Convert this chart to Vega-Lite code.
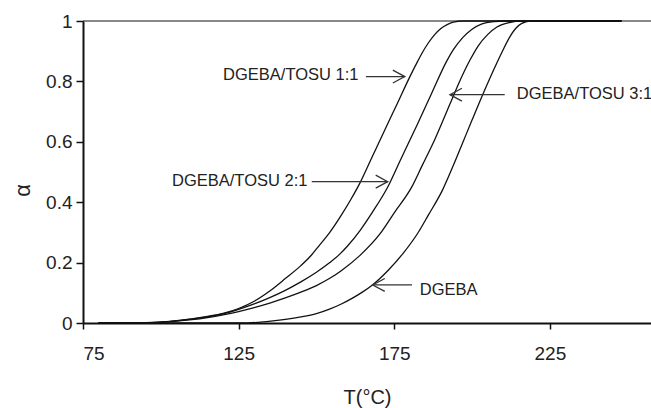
{
  "$schema": "https://vega.github.io/schema/vega-lite/v6.json",
  "width": 568,
  "height": 302,
  "autosize": {"type": "none"},
  "padding": {"left": 83, "top": 21, "right": 0, "bottom": 85},
  "background": "white",
  "config": {
    "view": {"stroke": null},
    "font": "Liberation Sans",
    "axisX": {
      "grid": false, "domainColor": "#111", "domainWidth": 2, "tickColor": "#111", "tickWidth": 1.5, "tickSize": 6,
      "labelFont": "Liberation Sans", "labelFontSize": 19, "labelColor": "#222", "labelPadding": 15, "labelDx": 5,
      "titleFont": "Liberation Sans", "titleFontSize": 20, "titleFontWeight": "normal", "titleColor": "#222",
      "titleBaseline": "alphabetic", "titleY": 80, "titleX": 284
    },
    "axisY": {
      "grid": false, "domainColor": "#111", "domainWidth": 2, "tickColor": "#111", "tickWidth": 1.5, "tickSize": 7,
      "labelFont": "Liberation Sans", "labelFontSize": 19, "labelColor": "#222", "labelPadding": 4,
      "titleFont": "Liberation Sans", "titleFontSize": 22, "titleFontWeight": "normal", "titleColor": "#222",
      "titleBaseline": "middle", "titleX": -61, "titleY": 169
    }
  },
  "datasets": {
    "curves": [
      {"s":"1:1","T":80,"a":0},{"s":"1:1","T":90,"a":0},{"s":"1:1","T":95,"a":0.001},{"s":"1:1","T":100,"a":0.003},{"s":"1:1","T":105,"a":0.008},{"s":"1:1","T":110,"a":0.014},{"s":"1:1","T":115,"a":0.022},{"s":"1:1","T":120,"a":0.032},{"s":"1:1","T":125,"a":0.048},{"s":"1:1","T":130,"a":0.072},{"s":"1:1","T":135,"a":0.106},{"s":"1:1","T":140,"a":0.147},{"s":"1:1","T":145,"a":0.19},{"s":"1:1","T":148.5,"a":0.226},{"s":"1:1","T":151,"a":0.258},{"s":"1:1","T":154.3,"a":0.3},{"s":"1:1","T":158,"a":0.357},{"s":"1:1","T":161,"a":0.408},{"s":"1:1","T":164,"a":0.464},{"s":"1:1","T":168,"a":0.552},{"s":"1:1","T":172,"a":0.64},{"s":"1:1","T":176,"a":0.727},{"s":"1:1","T":180,"a":0.815},{"s":"1:1","T":182.6,"a":0.868},{"s":"1:1","T":184,"a":0.895},{"s":"1:1","T":186,"a":0.928},{"s":"1:1","T":188,"a":0.955},{"s":"1:1","T":190,"a":0.975},{"s":"1:1","T":192,"a":0.988},{"s":"1:1","T":194,"a":0.996},{"s":"1:1","T":197,"a":1},{"s":"1:1","T":248,"a":1},
      {"s":"2:1","T":80,"a":0},{"s":"2:1","T":90,"a":0},{"s":"2:1","T":95,"a":0.001},{"s":"2:1","T":100,"a":0.003},{"s":"2:1","T":105,"a":0.007},{"s":"2:1","T":110,"a":0.013},{"s":"2:1","T":115,"a":0.02},{"s":"2:1","T":120,"a":0.03},{"s":"2:1","T":125,"a":0.045},{"s":"2:1","T":130,"a":0.063},{"s":"2:1","T":135,"a":0.084},{"s":"2:1","T":140,"a":0.108},{"s":"2:1","T":145,"a":0.136},{"s":"2:1","T":150,"a":0.168},{"s":"2:1","T":154.3,"a":0.2},{"s":"2:1","T":157.5,"a":0.228},{"s":"2:1","T":160,"a":0.255},{"s":"2:1","T":164,"a":0.306},{"s":"2:1","T":168,"a":0.367},{"s":"2:1","T":173,"a":0.452},{"s":"2:1","T":177,"a":0.54},{"s":"2:1","T":182.3,"a":0.655},{"s":"2:1","T":187,"a":0.76},{"s":"2:1","T":191.9,"a":0.868},{"s":"2:1","T":194,"a":0.905},{"s":"2:1","T":197,"a":0.945},{"s":"2:1","T":200,"a":0.973},{"s":"2:1","T":203,"a":0.99},{"s":"2:1","T":207,"a":0.998},{"s":"2:1","T":211,"a":1},{"s":"2:1","T":248,"a":1},
      {"s":"3:1","T":80,"a":0},{"s":"3:1","T":90,"a":0},{"s":"3:1","T":95,"a":0.001},{"s":"3:1","T":100,"a":0.003},{"s":"3:1","T":105,"a":0.006},{"s":"3:1","T":110,"a":0.011},{"s":"3:1","T":115,"a":0.018},{"s":"3:1","T":120,"a":0.027},{"s":"3:1","T":125,"a":0.038},{"s":"3:1","T":130,"a":0.051},{"s":"3:1","T":135,"a":0.066},{"s":"3:1","T":140,"a":0.083},{"s":"3:1","T":145,"a":0.102},{"s":"3:1","T":150,"a":0.124},{"s":"3:1","T":154.3,"a":0.148},{"s":"3:1","T":158.2,"a":0.175},{"s":"3:1","T":164,"a":0.224},{"s":"3:1","T":170.4,"a":0.295},{"s":"3:1","T":175,"a":0.365},{"s":"3:1","T":180.6,"a":0.45},{"s":"3:1","T":184,"a":0.522},{"s":"3:1","T":188,"a":0.607},{"s":"3:1","T":192.9,"a":0.725},{"s":"3:1","T":196,"a":0.8},{"s":"3:1","T":199.3,"a":0.87},{"s":"3:1","T":202,"a":0.918},{"s":"3:1","T":205,"a":0.955},{"s":"3:1","T":208,"a":0.98},{"s":"3:1","T":212,"a":0.995},{"s":"3:1","T":216,"a":1},{"s":"3:1","T":248,"a":1},
      {"s":"DGEBA","T":80,"a":0},{"s":"DGEBA","T":100,"a":0},{"s":"DGEBA","T":120,"a":0},{"s":"DGEBA","T":128,"a":0},{"s":"DGEBA","T":132,"a":0.003},{"s":"DGEBA","T":136,"a":0.007},{"s":"DGEBA","T":140,"a":0.012},{"s":"DGEBA","T":145,"a":0.02},{"s":"DGEBA","T":150,"a":0.031},{"s":"DGEBA","T":154,"a":0.045},{"s":"DGEBA","T":158,"a":0.063},{"s":"DGEBA","T":162,"a":0.085},{"s":"DGEBA","T":165,"a":0.104},{"s":"DGEBA","T":168,"a":0.126},{"s":"DGEBA","T":173,"a":0.174},{"s":"DGEBA","T":177.8,"a":0.23},{"s":"DGEBA","T":182.6,"a":0.298},{"s":"DGEBA","T":186,"a":0.358},{"s":"DGEBA","T":190.5,"a":0.44},{"s":"DGEBA","T":194,"a":0.522},{"s":"DGEBA","T":197,"a":0.597},{"s":"DGEBA","T":200,"a":0.672},{"s":"DGEBA","T":204,"a":0.77},{"s":"DGEBA","T":208,"a":0.862},{"s":"DGEBA","T":210,"a":0.905},{"s":"DGEBA","T":212,"a":0.945},{"s":"DGEBA","T":214,"a":0.975},{"s":"DGEBA","T":216,"a":0.992},{"s":"DGEBA","T":219,"a":1},{"s":"DGEBA","T":248,"a":1}
    ],
    "labels": [
      {"text":"DGEBA/TOSU 1:1","T":120.0,"a":0.821},
      {"text":"DGEBA/TOSU 2:1","T":103.6,"a":0.471},
      {"text":"DGEBA/TOSU 3:1","T":214.4,"a":0.759},
      {"text":"DGEBA","T":183.2,"a":0.11}
    ],
    "arrows": [
      {"T":178.4,"T2":165.9,"a":0.816,"dir":"right"},
      {"T":172.9,"T2":148.5,"a":0.468,"dir":"right"},
      {"T":192.9,"T2":210.5,"a":0.756,"dir":"left"},
      {"T":168.1,"T2":180.7,"a":0.126,"dir":"left"}
    ]
  },
  "layer": [
    {
      "data": {"values": [{"a": 1}]},
      "mark": {"type": "rule", "color": "#111", "strokeWidth": 1},
      "encoding": {
        "y": {"field": "a", "type": "quantitative", "scale": {"domain": [0, 1], "nice": false}, "title": "α", "axis": {"values": [0, 0.2, 0.4, 0.6, 0.8, 1], "format": "~g"}}
      }
    },
    {
      "data": {"name": "curves"},
      "mark": {"type": "line", "color": "#111", "strokeWidth": 1.3, "interpolate": "monotone"},
      "encoding": {
        "x": {"field": "T", "type": "quantitative", "scale": {"domain": [75, 257.5], "nice": false, "zero": false}, "title": "T(°C)", "axis": {"values": [75, 125, 175, 225]}},
        "y": {"field": "a", "type": "quantitative", "scale": {"domain": [0, 1], "nice": false}, "title": "α", "axis": {"values": [0, 0.2, 0.4, 0.6, 0.8, 1], "format": "~g"}},
        "detail": {"field": "s", "type": "nominal"}
      }
    },
    {
      "data": {"name": "arrows"},
      "mark": {"type": "rule", "color": "#333", "strokeWidth": 1.3},
      "encoding": {
        "x": {"field": "T", "type": "quantitative", "scale": {"domain": [75, 257.5], "nice": false, "zero": false}, "title": "T(°C)", "axis": {"values": [75, 125, 175, 225]}},
        "x2": {"field": "T2"},
        "y": {"field": "a", "type": "quantitative", "scale": {"domain": [0, 1], "nice": false}, "title": "α", "axis": {"values": [0, 0.2, 0.4, 0.6, 0.8, 1], "format": "~g"}}
      }
    },
    {
      "data": {"name": "arrows"},
      "mark": {"type": "point", "filled": false, "color": "#333", "strokeWidth": 1.3, "size": 576, "opacity": 1},
      "encoding": {
        "x": {"field": "T", "type": "quantitative", "scale": {"domain": [75, 257.5], "nice": false, "zero": false}, "title": "T(°C)", "axis": {"values": [75, 125, 175, 225]}},
        "y": {"field": "a", "type": "quantitative", "scale": {"domain": [0, 1], "nice": false}, "title": "α", "axis": {"values": [0, 0.2, 0.4, 0.6, 0.8, 1], "format": "~g"}},
        "shape": {"field": "dir", "type": "nominal", "scale": {"domain": ["right", "left"], "range": ["M-1,-0.54L0,0L-1,0.54", "M1,-0.54L0,0L1,0.54"]}, "legend": null}
      }
    },
    {
      "data": {"name": "labels"},
      "mark": {"type": "text", "align": "left", "baseline": "middle", "font": "Liberation Sans", "fontSize": 16.5, "color": "#222"},
      "encoding": {
        "x": {"field": "T", "type": "quantitative", "scale": {"domain": [75, 257.5], "nice": false, "zero": false}, "title": "T(°C)", "axis": {"values": [75, 125, 175, 225]}},
        "y": {"field": "a", "type": "quantitative", "scale": {"domain": [0, 1], "nice": false}, "title": "α", "axis": {"values": [0, 0.2, 0.4, 0.6, 0.8, 1], "format": "~g"}},
        "text": {"field": "text"}
      }
    }
  ]
}
